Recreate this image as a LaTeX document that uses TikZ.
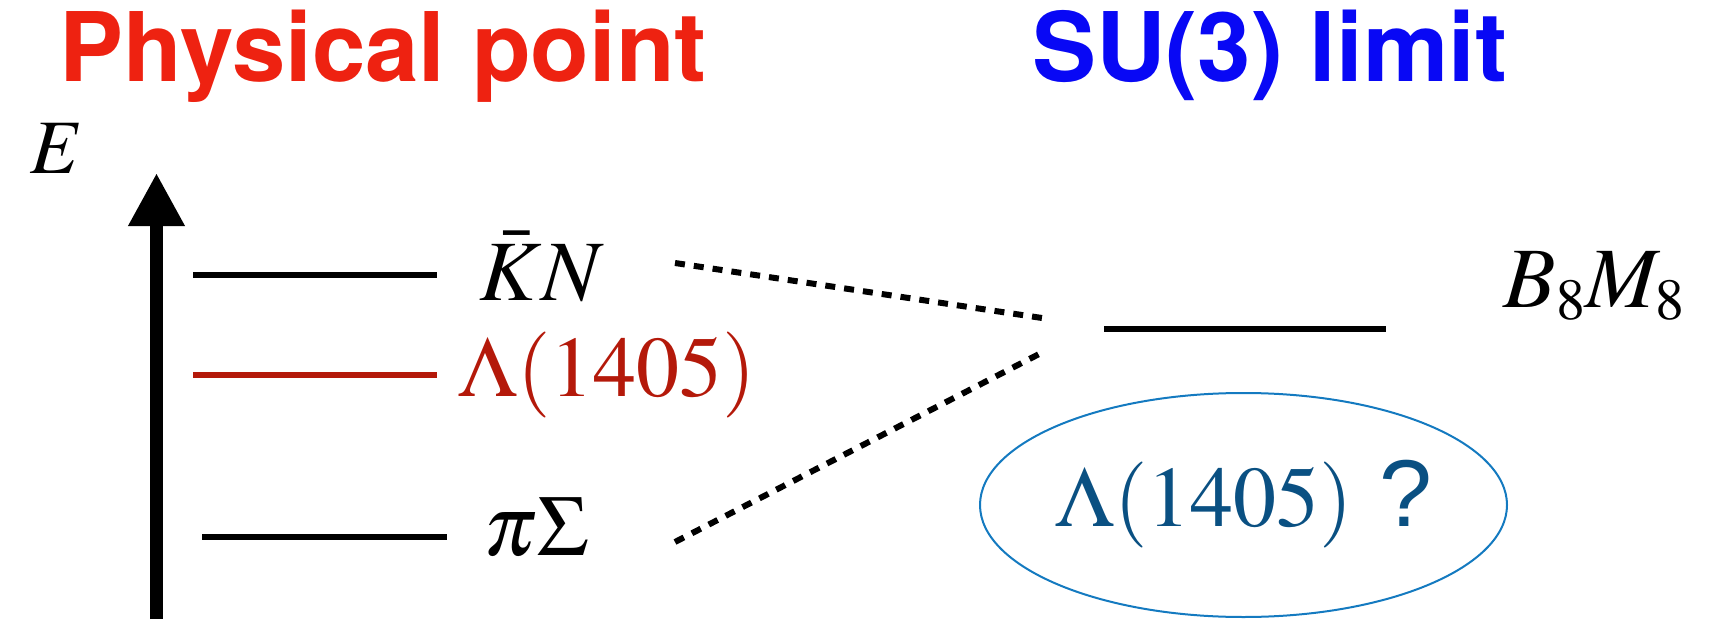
\documentclass[tikz,border=0pt]{standalone}
\usepackage{mathptmx}
\usepackage[no-math]{fontspec}
\newfontfamily\heros{TeX Gyre Heros}
\newfontfamily\lsans{Liberation Sans}
\usetikzlibrary{arrows.meta,shapes.geometric}
\definecolor{titlered}{RGB}{238,34,17}
\definecolor{titleblue}{RGB}{8,8,245}
\definecolor{lamred}{RGB}{180,25,10}
\definecolor{ellblue}{RGB}{20,122,192}
\definecolor{txtblue}{RGB}{10,80,130}
\newcommand{\subeight}{\mbox{\fontsize{58}{58}\selectfont$8$}}
\tikzset{
  title/.style={inner sep=0pt, anchor=base, font=\heros\bfseries\fontsize{96}{100}\selectfont},
  lbl/.style={inner sep=0pt, anchor=base, font=\fontsize{86}{100}\selectfont},
  level/.style={line width=5.5pt},
  mix/.style={line width=6pt, dash pattern=on 10pt off 9pt},
}
\begin{document}
\begin{tikzpicture}[x=1pt,y=-1pt]
\useasboundingbox (0,0) rectangle (1711,623);
% titles
\node[title, text=titlered] (tphys) at (383,82) {Physical point};
\node[title, text=titleblue] (tsu) at (1270,82) {SU(3) limit};
% energy axis
\node[inner sep=0pt, anchor=base west, font=\fontsize{77}{80}\selectfont] (E) at (30,173) {$E$};
\coordinate (abot) at (156.5,619);
\coordinate (atop) at (156.5,173);
\draw[line width=13pt, -{Triangle[length=53pt,width=53pt]}] (abot) -- (atop);
% physical levels
\coordinate (kn-l) at (193,275); \coordinate (kn-r) at (437,275);
\coordinate (la-l) at (193,375); \coordinate (la-r) at (437,375);
\coordinate (ps-l) at (202,537); \coordinate (ps-r) at (447,537);
\draw[level] (kn-l) -- (kn-r);
\draw[level, lamred] (la-l) -- (la-r);
\draw[level] (ps-l) -- (ps-r);
\node[lbl] (kn) at (542,300) {$\bar K N$};
\node[lbl, text=lamred] (lam) at (607,396) {$\Lambda(1405)$};
\node[lbl] (ps) at (536,555) {$\pi\Sigma$};
% SU(3) level
\coordinate (b8-l) at (1104,329); \coordinate (b8-r) at (1386,329);
\draw[level] (b8-l) -- (b8-r);
\node[lbl] (bm) at (1594,307) {$B_{\subeight}M_{\subeight}$};
% mixing lines
\coordinate (d1a) at (675,263); \coordinate (d1b) at (1042,318);
\coordinate (d2a) at (675,542); \coordinate (d2b) at (1043,352);
\draw[mix] (d1a) -- (d1b);
\draw[mix] (d2a) -- (d2b);
% ellipse
\node[ellipse, draw=ellblue, line width=2pt, minimum width=527pt, minimum height=224pt, inner sep=0pt] (ell) at (1243.5,505) {};
\node[lbl, anchor=base west, text=txtblue] (q) at (1055,526) {$\Lambda(1405)$\hspace{27pt}{\lsans\fontsize{95}{100}\selectfont ?}};
\end{tikzpicture}
\end{document}
